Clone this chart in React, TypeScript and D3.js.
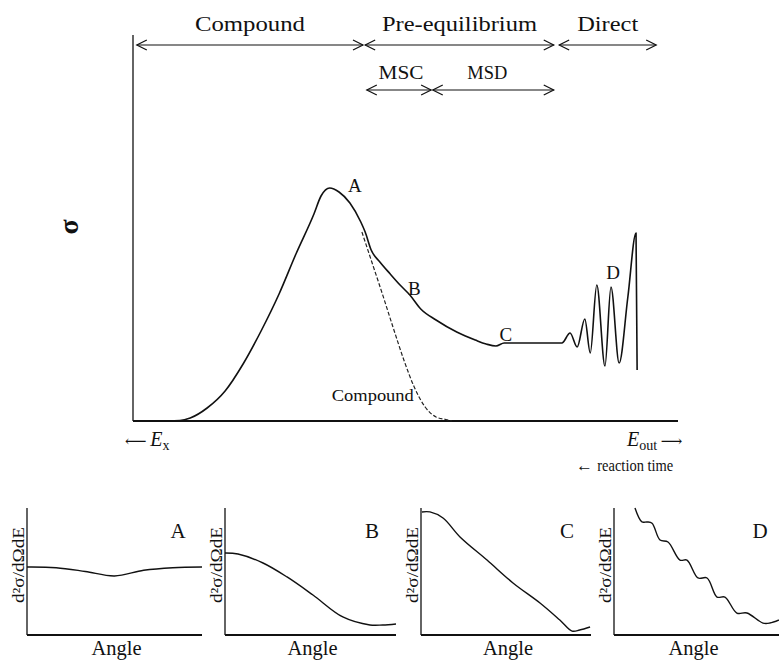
import React from 'react';
import * as d3 from 'd3';

// ---- Main spectrum (energy axis in arbitrary units, sigma in arbitrary units)
const totalEnergy = [3.1, 8.6, 10.5, 13.6, 16.9, 20.2, 23.5, 26.8, 29.9, 33.2, 34.5, 36.1, 37.8, 39.8, 41.8, 42.6, 43.7, 45.3, 47.2, 49.0, 50.8, 52.8, 55.6, 59.4, 62.8, 64.8, 66.6, 68.1, 69.4, 78.7, 80.2, 81.5, 82.9, 83.9, 85.1, 86.6, 87.7, 89.2, 90.8, 92.3, 92.5];
const totalSigma = [0, 0.2, 1.2, 5.2, 12, 22.8, 36, 50.8, 66.8, 82.8, 90, 93.2, 91.6, 87.2, 79.6, 75.6, 68.4, 63.6, 58.8, 54.4, 50.4, 44.8, 40.4, 35.6, 32.4, 30.8, 30, 31.2, 31.2, 31.2, 35.2, 29.6, 40.8, 27.2, 54.4, 22, 53.6, 23.2, 49.6, 75.2, 20.4];

const compoundEnergy = [42.0, 43.7, 45.7, 47.7, 49.7, 51.6, 53.6, 55.6, 57.4, 58.5];
const compoundSigma = [75.6, 64.4, 51.2, 37.6, 24.4, 13.6, 5.6, 1.6, 0.6, 0];

const regionLabels = ['Compound', 'Pre-equilibrium', 'Direct'];
const regionFrom = [0.7, 42.6, 78.2];
const regionTo = [42.2, 77.2, 96.0];
const regionTextWidth = [110, 155, 61];

const subLabels = ['MSC', 'MSD'];
const subFrom = [42.9, 55.0];
const subTo = [54.7, 77.2];
const subTextWidth = [45, 40];

const pointLabels = ['A', 'B', 'C', 'D'];
const pointEnergy = [40.7, 51.6, 68.4, 88.1];
const pointSigma = [94.4, 53.2, 34.8, 59.6];

// ---- Angular distributions
const panelNames = ['A', 'B', 'C', 'D'];
const angleA = [0, 30, 60, 90, 120, 150, 180];
const distA = [53.5, 53, 50, 46.5, 51, 53, 53.5];
const angleB = [0, 13.7, 40, 65.3, 92.6, 124, 152.6, 166, 180];
const distB = [64.6, 63.8, 56.7, 45.7, 31.5, 14.2, 7.9, 7.9, 8.7];
const angleC = [1, 9.5, 23.3, 41.3, 69.9, 97.4, 126, 147, 160, 168, 179];
const distC = [96.9, 96.9, 92.1, 77.2, 59, 41, 25.2, 11.8, 3.1, 3.9, 6.3];
const angleD = [22.9, 30.5, 36, 41.5, 50.2, 58.9, 72, 79.6, 91.6, 101.5, 112.4, 121, 134, 145, 162.5, 170, 180];
const distD = [100, 89, 89, 88, 74.8, 73.2, 59, 59, 44.9, 44.9, 29.9, 29.9, 17.3, 17.3, 9.4, 9.4, 11.8];

const panelAngles = [angleA, angleB, angleC, angleD];
const panelDists = [distA, distB, distC, distD];

const W = 779;
const H = 661;
const SERIF = "'Liberation Serif', 'DejaVu Serif', serif";
const TXT: React.CSSProperties = { fontFamily: SERIF };

function DoubleArrow({ x1, x2, y }: { x1: number; x2: number; y: number }) {
  const h = 10;
  const v = 5;
  return (
    <g stroke="#111" fill="none" strokeWidth={1.2}>
      <line x1={x1} x2={x2} y1={y} y2={y} />
      <path d={`M${x1 + h},${y - v}L${x1},${y}L${x1 + h},${y + v}`} />
      <path d={`M${x2 - h},${y - v}L${x2},${y}L${x2 - h},${y + v}`} />
    </g>
  );
}

export default function App() {
  const x = d3.scaleLinear().domain([0, 100]).range([133, 678]);
  const y = d3.scaleLinear().domain([0, 100]).range([421, 171]);

  const line = d3
    .line<[number, number]>()
    .x((d) => x(d[0]))
    .y((d) => y(d[1]))
    .curve(d3.curveMonotoneX);

  const totalPath = line(totalEnergy.map((e, i) => [e, totalSigma[i]]) as [number, number][]) || '';
  const compoundPath = line(compoundEnergy.map((e, i) => [e, compoundSigma[i]]) as [number, number][]) || '';

  const panelLeft = [27, 225, 421, 614];
  const panelRight = [202, 396, 591, 779];
  const panelTop = 508;
  const panelBottom = 635;

  return (
    <svg
      width={W}
      height={H}
      viewBox={`0 0 ${W} ${H}`}
      style={{ position: 'absolute', left: 0, top: 0, background: '#fff', fontFamily: SERIF }}
    >
      <rect width={W} height={H} fill="#fff" />

      {/* main axes */}
      <line x1={133} x2={133} y1={35} y2={421} stroke="#111" strokeWidth={1.3} />
      <line x1={133} x2={678} y1={421} y2={421} stroke="#111" strokeWidth={2} />

      {/* region arrows */}
      {regionLabels.map((lab, i) => {
        const x1 = x(regionFrom[i]);
        const x2 = x(regionTo[i]);
        return (
          <g key={lab}>
            <DoubleArrow x1={x1} x2={x2} y={45} />
            <text
              x={(x1 + x2) / 2}
              y={31}
              textAnchor="middle"
              fontSize={21}
              textLength={regionTextWidth[i]}
              lengthAdjust="spacingAndGlyphs"
              fill="#111"
              style={TXT}
            >
              {lab}
            </text>
          </g>
        );
      })}
      {subLabels.map((lab, i) => {
        const x1 = x(subFrom[i]);
        const x2 = x(subTo[i]);
        return (
          <g key={lab}>
            <DoubleArrow x1={x1} x2={x2} y={90} />
            <text
              x={(x1 + x2) / 2 - (i === 1 ? 6 : -2)}
              y={79}
              textAnchor="middle"
              fontSize={19}
              textLength={subTextWidth[i]}
              lengthAdjust="spacingAndGlyphs"
              fill="#111"
              style={TXT}
            >
              {lab}
            </text>
          </g>
        );
      })}

      {/* sigma label */}
      <text
        transform="translate(68,227) rotate(-90)"
        textAnchor="middle"
        dominantBaseline="central"
        fontSize={28}
        fontWeight="bold"
        fill="#111"
        style={TXT}
      >
        σ
      </text>

      {/* curves */}
      <path d={totalPath} fill="none" stroke="#111" strokeWidth={1.6} strokeLinejoin="round" />
      <path d={compoundPath} fill="none" stroke="#222" strokeWidth={1.2} strokeDasharray="4,2" />

      {/* point labels */}
      {pointLabels.map((lab, i) => (
        <text
          key={lab}
          x={x(pointEnergy[i])}
          y={y(pointSigma[i])}
          textAnchor="middle"
          dominantBaseline="central"
          fontSize={19}
          fill="#111"
          style={TXT}
        >
          {lab}
        </text>
      ))}
      <text
        x={x(44.0)}
        y={y(10.4)}
        textAnchor="middle"
        dominantBaseline="central"
        fontSize={16}
        textLength={82}
        lengthAdjust="spacingAndGlyphs"
        fill="#111"
        style={TXT}
      >
        Compound
      </text>

      {/* energy axis labels */}
      <text x={125} y={446} fontSize={20} fill="#111" style={TXT}>
        <tspan fontSize={15}>⟵ </tspan>
        <tspan fontStyle="italic">E</tspan>
        <tspan fontSize={14} dy={4}>x</tspan>
      </text>
      <text x={627} y={446} fontSize={20} fill="#111" style={TXT}>
        <tspan fontStyle="italic">E</tspan>
        <tspan fontSize={14} dy={4}>out</tspan>
        <tspan fontSize={15} dy={-4}> ⟶</tspan>
      </text>
      <text x={576} y={471} fontSize={17} fill="#111" style={TXT}>
        <tspan>← </tspan>
        <tspan textLength={76} lengthAdjust="spacingAndGlyphs">reaction time</tspan>
      </text>

      {/* angular distribution panels */}
      {panelNames.map((name, p) => {
        const px = d3.scaleLinear().domain([0, 180]).range([panelLeft[p], panelRight[p]]);
        const py = d3.scaleLinear().domain([0, 100]).range([panelBottom, panelTop]);
        const pl = d3
          .line<[number, number]>()
          .x((d) => px(d[0]))
          .y((d) => py(d[1]))
          .curve(d3.curveCatmullRom.alpha(0.5));
        const pts = panelAngles[p].map((a, i) => [a, panelDists[p][i]]) as [number, number][];
        const mid = (panelLeft[p] + panelRight[p]) / 2;
        return (
          <g key={name}>
            <line x1={panelLeft[p]} x2={panelLeft[p]} y1={panelTop} y2={panelBottom} stroke="#111" strokeWidth={1.3} />
            <line x1={panelLeft[p]} x2={panelRight[p]} y1={panelBottom} y2={panelBottom} stroke="#111" strokeWidth={2} />
            <path d={pl(pts) || ''} fill="none" stroke="#111" strokeWidth={1.4} />
            <text
              transform={`translate(${panelLeft[p] - 9},565) rotate(-90)`}
              textAnchor="middle"
              dominantBaseline="central"
              fontSize={16}
              textLength={76}
              lengthAdjust="spacingAndGlyphs"
              fill="#111"
              style={TXT}
            >
              d²σ/dΩdE
            </text>
            <text
              x={panelRight[p] - (p === 3 ? 19 : 24)}
              y={531}
              textAnchor="middle"
              dominantBaseline="central"
              fontSize={21}
              fill="#111"
              style={TXT}
            >
              {name}
            </text>
            <text
              x={mid + (p === 3 ? -3 : 2)}
              y={648}
              textAnchor="middle"
              dominantBaseline="central"
              fontSize={21}
              textLength={50}
              lengthAdjust="spacingAndGlyphs"
              fill="#111"
              style={TXT}
            >
              Angle
            </text>
          </g>
        );
      })}
    </svg>
  );
}
